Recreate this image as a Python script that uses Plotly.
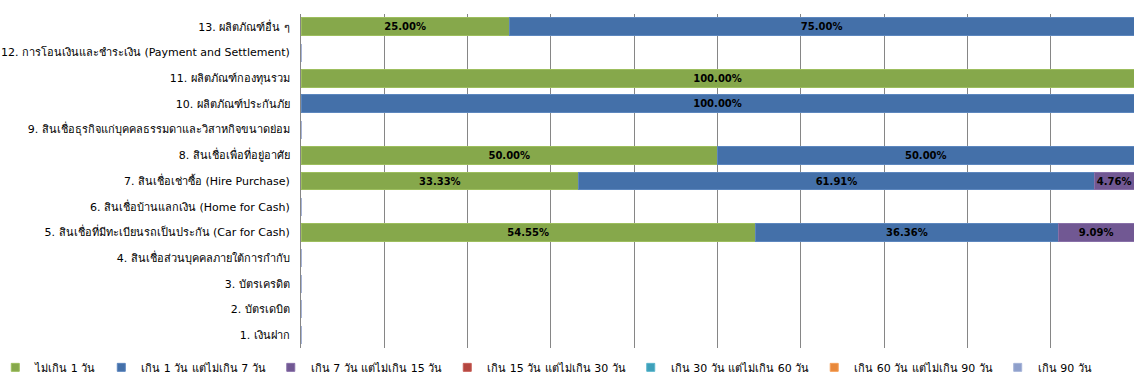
import plotly.graph_objects as go

categories = [
    "1. เงินฝาก",
    "2. บัตรเดบิต",
    "3. บัตรเครดิต",
    "4. สินเชื่อส่วนบุคคลภายใต้การกำกับ",
    "5. สินเชื่อที่มีทะเบียนรถเป็นประกัน (Car for Cash)",
    "6. สินเชื่อบ้านแลกเงิน (Home for Cash)",
    "7. สินเชื่อเช่าซื้อ (Hire Purchase)",
    "8. สินเชื่อเพื่อที่อยู่อาศัย",
    "9. สินเชื่อธุรกิจแก่บุคคลธรรมดาและวิสาหกิจขนาดย่อม",
    "10. ผลิตภัณฑ์ประกันภัย",
    "11. ผลิตภัณฑ์กองทุนรวม",
    "12. การโอนเงินและชำระเงิน (Payment and Settlement)",
    "13. ผลิตภัณฑ์อื่น ๆ",
]

series_names = [
    "ไม่เกิน 1 วัน",
    "เกิน 1 วัน แต่ไม่เกิน 7 วัน",
    "เกิน 7 วัน แต่ไม่เกิน 15 วัน",
    "เกิน 15 วัน แต่ไม่เกิน 30 วัน",
    "เกิน 30 วัน แต่ไม่เกิน 60 วัน",
    "เกิน 60 วัน แต่ไม่เกิน 90 วัน",
    "เกิน 90 วัน",
]

s_le1 = [0, 0, 0, 0, 54.55, 0, 33.33, 50.00, 0, 0, 100.00, 0, 25.00]
s_1_7 = [0, 0, 0, 0, 36.36, 0, 61.91, 50.00, 0, 100.00, 0, 0, 75.00]
s_7_15 = [0, 0, 0, 0, 9.09, 0, 4.76, 0, 0, 0, 0, 0, 0]
s_15_30 = [0] * 13
s_30_60 = [0] * 13
s_60_90 = [0] * 13
s_gt90 = [0] * 13

series_values = [s_le1, s_1_7, s_7_15, s_15_30, s_30_60, s_60_90, s_gt90]

colors = ["#86A84B", "#4470A9", "#715893", "#B4463F", "#3EA0BA", "#E8883A", "#8E9FCB"]
line_colors = ["#9DBE5E", "#5D87BE", "#8870A8", "#C8605A", "#5CB6CC", "#F5A05A", "#A6B4D8"]

FONT = "Tahoma, 'DejaVu Sans', 'Noto Sans', sans-serif"

fig = go.Figure()
for name, vals, c, lc in zip(series_names, series_values, colors, line_colors):
    fig.add_trace(go.Bar(
        y=categories,
        x=vals,
        name=name,
        legendgroup=name,
        showlegend=False,
        orientation="h",
        marker=dict(color=c, line=dict(color=lc, width=1)),
        text=[f"{v:.2f}%" if v else "" for v in vals],
        textposition="inside",
        insidetextanchor="middle",
        textangle=0,
        textfont=dict(family=FONT, size=10, color="#000000", weight="bold"),
        hoverinfo="skip",
    ))

# legend entries (small square keys like the original)
for name, c, lc in zip(series_names, colors, line_colors):
    fig.add_trace(go.Scatter(
        x=[None],
        y=[None],
        mode="markers",
        name=name,
        legendgroup=name,
        marker=dict(symbol="square", size=8, color=c, line=dict(color=lc, width=1)),
        hoverinfo="skip",
    ))

fig.update_layout(
    barmode="stack",
    bargap=0.3,
    width=1145,
    height=387,
    margin=dict(l=301, r=11, t=14, b=39, autoexpand=False),
    paper_bgcolor="white",
    plot_bgcolor="white",
    font=dict(family=FONT, size=11, color="#000000"),
    uniformtext=dict(minsize=10, mode="show"),
    showlegend=True,
    legend=dict(
        orientation="h",
        x=-0.367,
        xanchor="left",
        y=-0.058,
        yanchor="middle",
        font=dict(family=FONT, size=11, color="#000000"),
        itemwidth=30,
        traceorder="normal",
        tracegroupgap=0,
    ),
    xaxis=dict(
        range=[0, 100],
        dtick=10,
        showgrid=True,
        gridcolor="#868686",
        gridwidth=1,
        showticklabels=False,
        zeroline=False,
        showline=False,
        fixedrange=True,
        automargin=False,
    ),
    yaxis=dict(
        type="category",
        categoryorder="array",
        categoryarray=categories,
        showline=True,
        linecolor="#868686",
        linewidth=1,
        ticks="outside",
        ticklen=8,
        tickcolor="rgba(0,0,0,0)",
        showgrid=False,
        tickfont=dict(family=FONT, size=11, color="#000000"),
        fixedrange=True,
        automargin=False,
    ),
)

fig.write_html(
    "out.html",
    config={"displayModeBar": False},
    post_script="document.body.style.margin='0';document.body.style.overflow='hidden';",
)
